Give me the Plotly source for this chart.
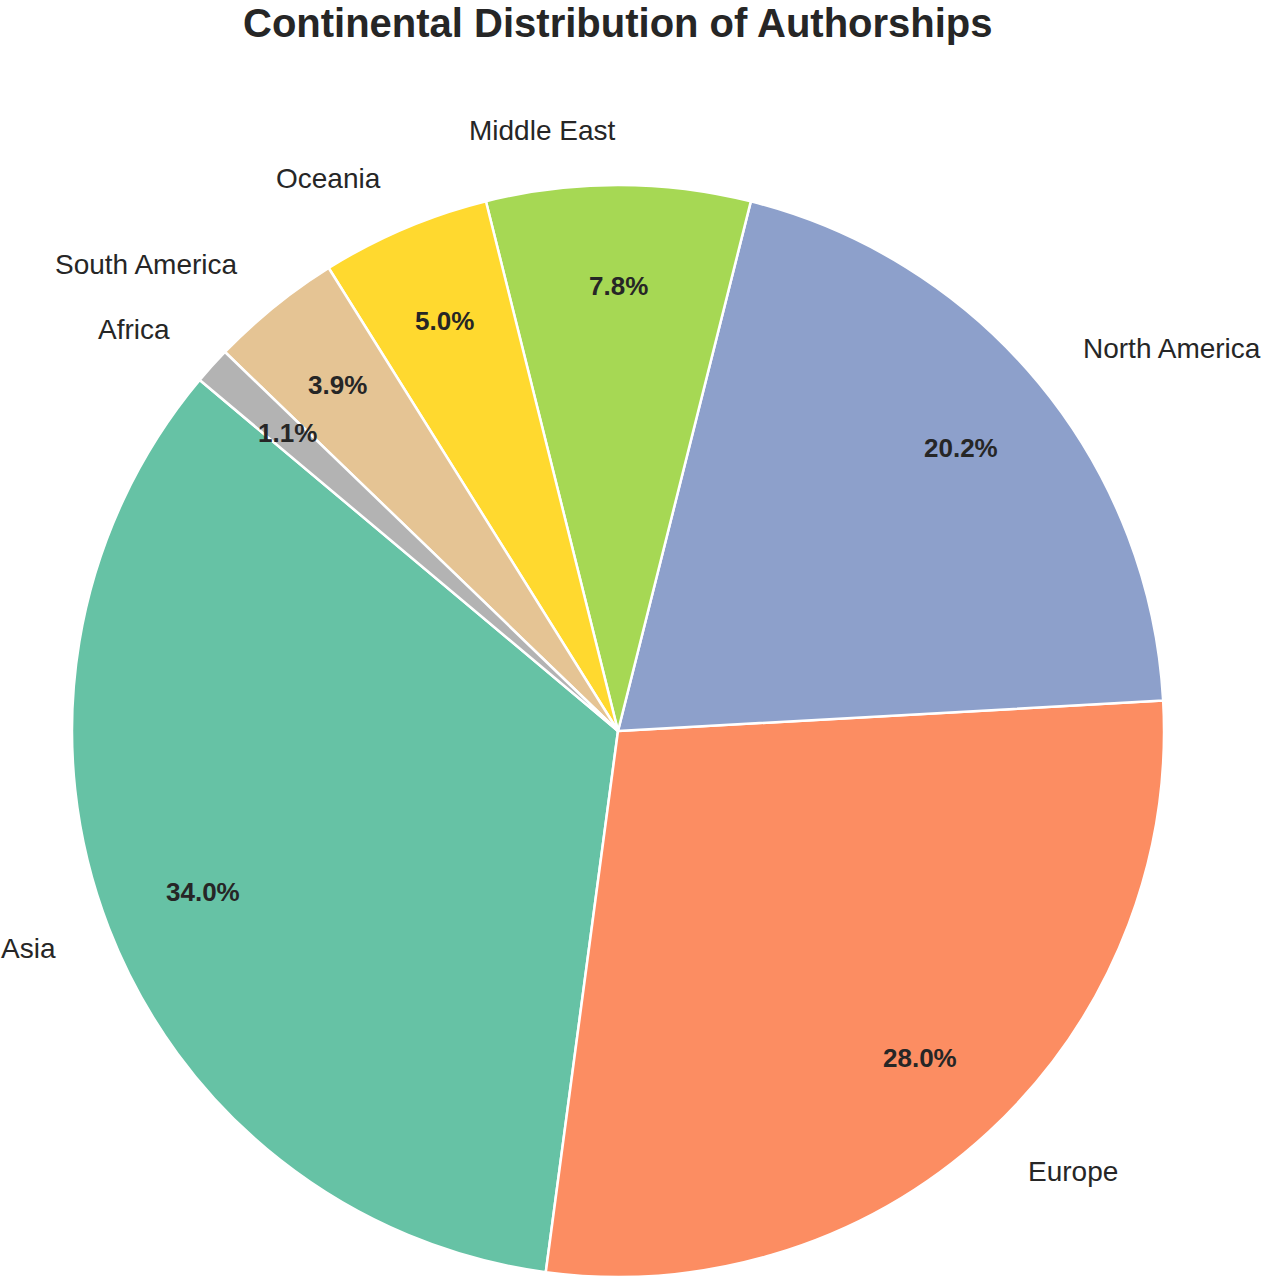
import math
import plotly.graph_objects as go

# ---- data ----
continents = ["Asia", "Europe", "North America", "Middle East", "Oceania", "South America", "Africa"]
shares = [34.0, 28.0, 20.2, 7.8, 5.0, 3.9, 1.1]
colors = ["#66c2a5", "#fc8d62", "#8da0cb", "#a6d854", "#ffd92f", "#e5c494", "#b3b3b3"]
title_text = "Continental Distribution of Authorships"

W, H = 1270, 1280
CX, CY, R = 618, 731, 546
START = 140.0  # degrees, counterclockwise from 3 o'clock
LABEL_DIST = 1.1
PCT_DIST = 0.815

total = sum(shares)
first_span = shares[0] / total * 360.0

fig = go.Figure()
fig.add_trace(go.Pie(
    labels=continents,
    values=shares,
    sort=False,
    direction="counterclockwise",
    rotation=90 - START - first_span,
    marker=dict(colors=colors, line=dict(color="white", width=2.5)),
    textinfo="none",
    hoverinfo="label+percent",
    showlegend=False,
    domain=dict(x=[(CX - R) / W, (CX + R) / W], y=[1 - (CY + R) / H, 1 - (CY - R) / H]),
))

def to_paper(d, ang):
    a = math.radians(ang)
    px = CX + d * R * math.cos(a)
    py = CY - d * R * math.sin(a)
    return px / W, 1 - py / H, math.cos(a)

ang = START
annotations = []
for name, v in zip(continents, shares):
    span = v / total * 360.0
    mid = ang + span / 2
    ang += span
    x, y, c = to_paper(LABEL_DIST, mid)
    annotations.append(dict(
        x=x, y=y, xref="paper", yref="paper", text=name, showarrow=False,
        xanchor="left" if c > 0.01 else "right", yanchor="middle",
        font=dict(family="Liberation Sans, Arial, sans-serif", size=28, color="#262626"),
    ))
    x, y, _ = to_paper(PCT_DIST, mid)
    annotations.append(dict(
        x=x, y=y, xref="paper", yref="paper", text=f"{v:.1f}%", showarrow=False,
        xanchor="center", yanchor="middle",
        font=dict(family="Liberation Sans, Arial, sans-serif", size=26, color="#262626", weight="bold"),
    ))

annotations.append(dict(
    x=CX / W, y=1, xref="paper", yref="paper", text=f"<b>{title_text}</b>",
    showarrow=False, xanchor="center", yanchor="top", borderpad=0,
    font=dict(family="Liberation Sans, Arial, sans-serif", size=40, color="#262626"),
))

fig.update_layout(
    width=W, height=H,
    margin=dict(l=0, r=0, t=0, b=0),
    paper_bgcolor="white", plot_bgcolor="white",
    annotations=annotations,
)

fig.write_html("out.html", config={"displayModeBar": False},
               post_script="document.body.style.margin='0px';")
